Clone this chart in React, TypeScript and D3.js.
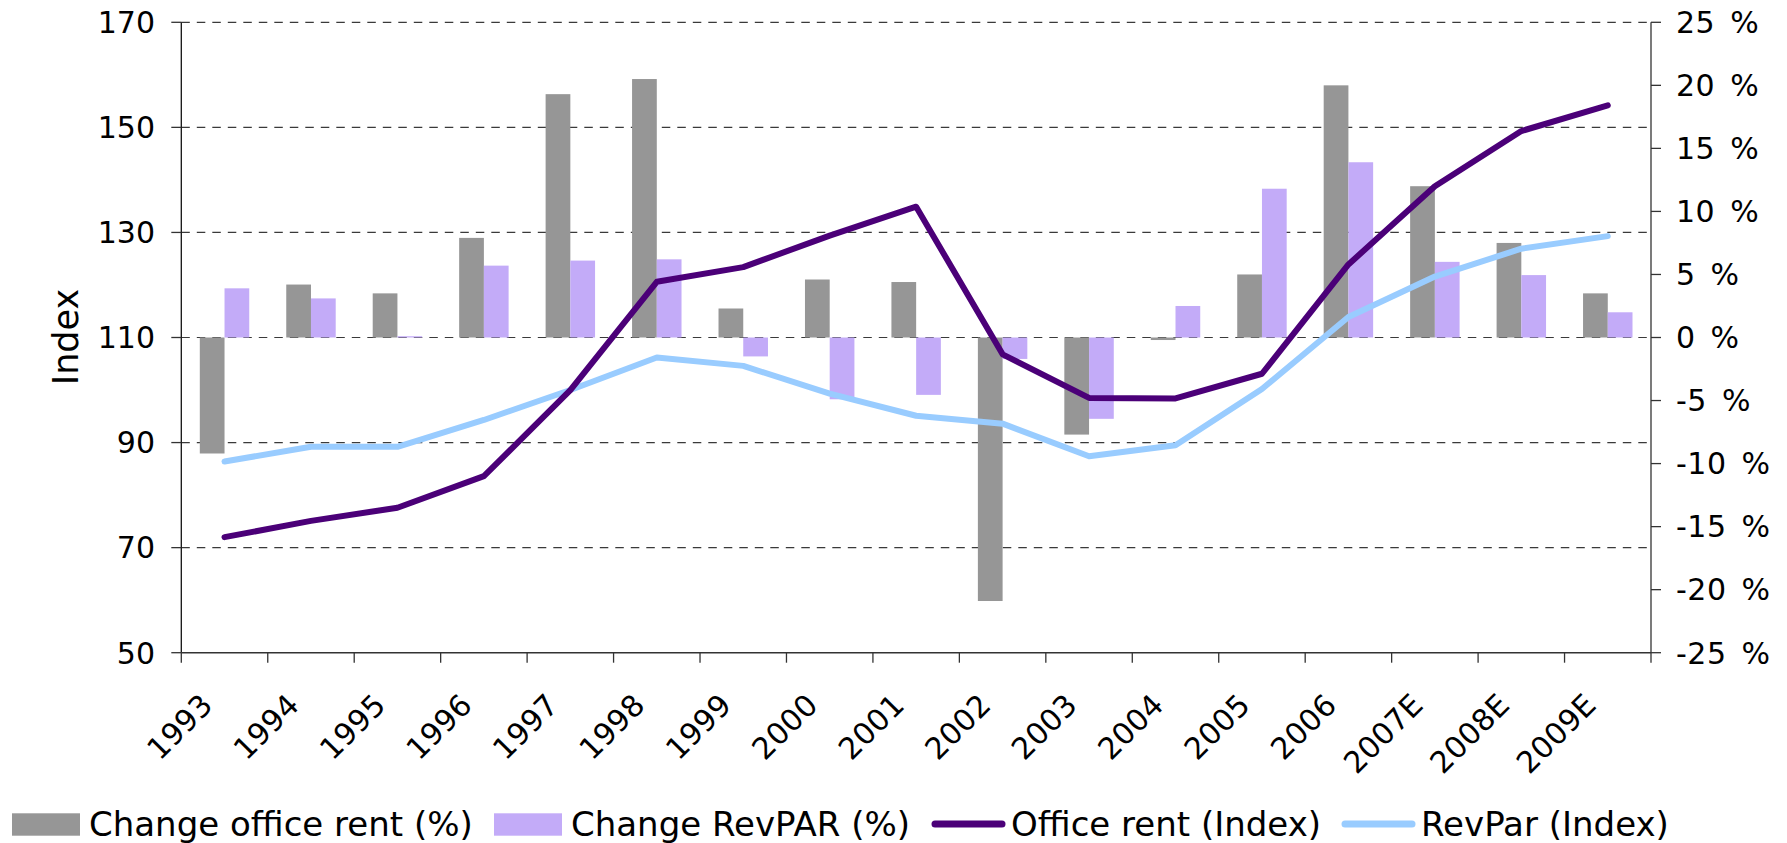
import React from "react";
import * as d3 from "d3";

const years = ["1993","1994","1995","1996","1997","1998","1999","2000","2001","2002","2003","2004","2005","2006","2007E","2008E","2009E"];
const changeOfficeRent = [-9.2, 4.2, 3.5, 7.9, 19.3, 20.5, 2.3, 4.6, 4.4, -20.9, -7.7, -0.2, 5.0, 20.0, 12.0, 7.5, 3.5];
const changeRevPAR = [3.9, 3.1, 0.1, 5.7, 6.1, 6.2, -1.5, -4.9, -4.55, -1.7, -6.45, 2.5, 11.8, 13.9, 6.0, 4.95, 2.0];
const officeRentIndex = [72.0, 75.1, 77.6, 83.6, 100.0, 120.6, 123.4, 129.4, 134.9, 106.8, 98.5, 98.4, 103.1, 123.9, 138.8, 149.3, 154.2];
const revParIndex = [86.4, 89.2, 89.2, 94.3, 100.0, 106.2, 104.6, 99.3, 95.1, 93.6, 87.4, 89.5, 100.2, 113.9, 121.6, 126.9, 129.3];
const leftTicks = [50, 70, 90, 110, 130, 150, 170];
const rightTicks = [-25, -20, -15, -10, -5, 0, 5, 10, 15, 20, 25];
const legendItems = [
  { label: "Change office rent (%)", kind: "bar", color: "#969696" },
  { label: "Change RevPAR (%)", kind: "bar", color: "#C3ABF8" },
  { label: "Office rent (Index)", kind: "line", color: "#4B0078" },
  { label: "RevPar (Index)", kind: "line", color: "#99CCFF" },
];

const W = 1787, H = 843;
const L = 181.3, R = 1651, T = 22.3, B = 652.7;
const FONT = "'DejaVu Sans', Verdana, sans-serif";

export default function App() {
  const x = d3.scaleBand<string>().domain(years).range([L, R]).paddingInner(0).paddingOuter(0);
  const yL = d3.scaleLinear().domain([50, 170]).range([B, T]);
  const yR = d3.scaleLinear().domain([-25, 25]).range([B, T]);
  const bw = x.bandwidth();
  const barW = bw * 0.286;
  const cx = (i: number) => (x(years[i]) as number) + bw / 2;
  const line = d3.line<number>().x((_, i) => cx(i)).y((v) => yL(v)).curve(d3.curveLinear);
  const swatchX = [12, 494, 932, 1342];
  const textX = [89, 571, 1011, 1421];

  return (
    <svg width={W} height={H} style={{ position: "absolute", left: 0, top: 0, background: "#fff" }} fontFamily={FONT}>
      {leftTicks.filter((t) => t !== 50).map((t) => (
        <line key={"g" + t} x1={L} x2={R} y1={yL(t)} y2={yL(t)} stroke="#3a3a3a" strokeWidth={1.2} strokeDasharray="8.5,7" />
      ))}
      {years.map((yr, i) => {
        const c = cx(i);
        const v1 = changeOfficeRent[i], v2 = changeRevPAR[i];
        return (
          <g key={"b" + yr}>
            <rect x={c - barW} width={barW} y={Math.min(yR(v1), yR(0))} height={Math.abs(yR(v1) - yR(0))} fill="#969696" />
            <rect x={c} width={barW} y={Math.min(yR(v2), yR(0))} height={Math.abs(yR(v2) - yR(0))} fill="#C3ABF8" />
          </g>
        );
      })}
      <path d={line(revParIndex) || ""} fill="none" stroke="#99CCFF" strokeWidth={6} strokeLinejoin="round" strokeLinecap="round" />
      <path d={line(officeRentIndex) || ""} fill="none" stroke="#4B0078" strokeWidth={6} strokeLinejoin="round" strokeLinecap="round" />
      <line x1={L} x2={L} y1={T} y2={B} stroke="#111" strokeWidth={1.3} />
      <line x1={R} x2={R} y1={T} y2={B} stroke="#333" strokeWidth={1.3} />
      <line x1={L} x2={R} y1={B} y2={B} stroke="#333" strokeWidth={1.5} />
      {leftTicks.map((t) => (
        <g key={"lt" + t}>
          <line x1={L - 10} x2={L} y1={yL(t)} y2={yL(t)} stroke="#333" strokeWidth={1.3} />
          <text x={155} y={yL(t)} dy="0.36em" textAnchor="end" fontSize={30} fill="#000">{t}</text>
        </g>
      ))}
      {rightTicks.map((t) => (
        <g key={"rt" + t}>
          <line x1={R} x2={R + 10} y1={yR(t)} y2={yR(t)} stroke="#333" strokeWidth={1.3} />
          <text x={1676} y={yR(t)} dy="0.36em" textAnchor="start" fontSize={30} wordSpacing={5} letterSpacing={0.5} fill="#000">{t + " %"}</text>
        </g>
      ))}
      {years.map((yr) => (
        <line key={"xt" + yr} x1={(x(yr) as number)} x2={(x(yr) as number)} y1={B} y2={B + 10} stroke="#333" strokeWidth={1.3} />
      ))}
      <line x1={R} x2={R} y1={B} y2={B + 10} stroke="#333" strokeWidth={1.3} />
      {years.map((yr, i) => (
        <text key={"xl" + yr} transform={`translate(${cx(i) - 10},${B + 54}) rotate(-45)`} textAnchor="end" fontSize={30} letterSpacing={0.3} fill="#000">{yr}</text>
      ))}
      <text transform={`translate(78,337) rotate(-90)`} textAnchor="middle" fontSize={35} fill="#000">Index</text>
      {legendItems.map((it, i) => (
        <g key={"lg" + i}>
          {it.kind === "bar" ? (
            <rect x={swatchX[i]} y={813.3} width={68} height={22.4} fill={it.color} />
          ) : (
            <line x1={swatchX[i] + 3} x2={swatchX[i] + 70} y1={824} y2={824} stroke={it.color} strokeWidth={7} strokeLinecap="round" />
          )}
          <text x={textX[i]} y={824} dy="0.36em" fontSize={34} fill="#000">{it.label}</text>
        </g>
      ))}
    </svg>
  );
}
